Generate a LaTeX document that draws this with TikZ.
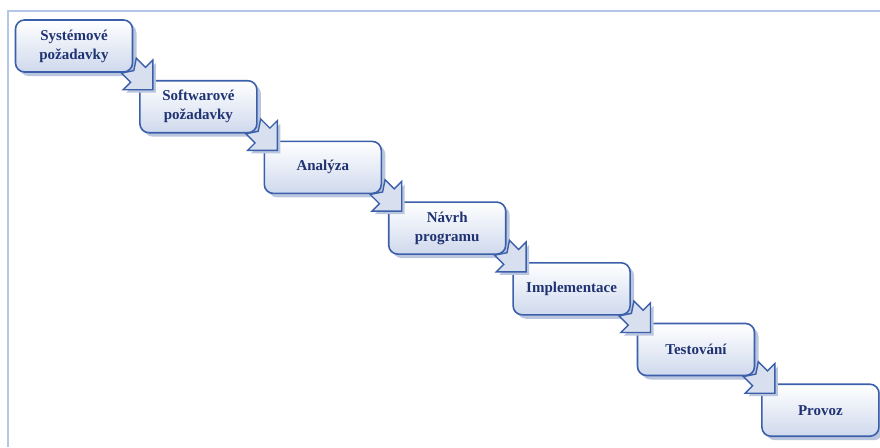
\documentclass[tikz,border=0pt]{standalone}
\usepackage{fontspec}
\setmainfont{Liberation Serif}
\usepackage{tikz}
\usetikzlibrary{shadows}

\definecolor{framelt}{HTML}{B4C6E7}
\definecolor{stepline}{HTML}{3B5FAA}
\definecolor{steptext}{HTML}{1F3272}
\definecolor{stepfill}{HTML}{CFD9ED}
\definecolor{stepshadow}{HTML}{BAC6DE}
\definecolor{arrowfill}{HTML}{D8E0EF}

\tikzset{
	stage/.style={rectangle,rounded corners=9pt,draw=stepline,line width=1.6pt,
		top color=white,bottom color=stepfill,minimum width=117pt,minimum height=52pt,
		inner sep=0pt,outer sep=0pt,align=center,text=steptext,
		font=\fontsize{15}{19}\selectfont\bfseries,
		drop shadow={shadow xshift=4pt,shadow yshift=-4pt,fill=stepshadow,opacity=1}},
	stagearrow/.style={draw=stepline,line width=1.4pt,fill=arrowfill,
		drop shadow={shadow xshift=3pt,shadow yshift=-3pt,fill=stepshadow,opacity=1}}
}

% block arrow, tip at #1, pointing down-right
\newcommand{\steparrow}[1]{%
	\begin{scope}[shift={(#1)},rotate=-45]
		\draw[stagearrow] (0,0) -- (-21,-21) -- (-21,-10.5) -- (-34,-10.5) -- (-27,0)
			-- (-34,10.5) -- (-21,10.5) -- (-21,21) -- cycle;
	\end{scope}}

\begin{document}
\begin{tikzpicture}[x=1pt,y=-1pt]
		\useasboundingbox (0,0) rectangle (880,447);
		\draw[framelt,line width=2pt] (8,447) -- (8,11) -- (880,11);

		\path (74,46) node(sys_req) [stage] {Systémové\\požadavky};
		\path (198.4,106.7) node(sw_req) [stage] {Softwarové\\požadavky};
		\path (322.8,167.4) node(analysis) [stage] {Analýza};
		\path (447.2,228.1) node(design) [stage] {Návrh\\programu};
		\path (571.6,288.8) node(impl) [stage] {Implementace};
		\path (696,349.5) node(testing) [stage] {Testování};
		\path (820.4,410.2) node(deploy) [stage] {Provoz};

		\path (sw_req.north west) +(13,9) coordinate (tip1);
		\path (analysis.north west) +(13,9) coordinate (tip2);
		\path (design.north west) +(13,9) coordinate (tip3);
		\path (impl.north west) +(13,9) coordinate (tip4);
		\path (testing.north west) +(13,9) coordinate (tip5);
		\path (deploy.north west) +(13,9) coordinate (tip6);

		\steparrow{tip1}
		\steparrow{tip2}
		\steparrow{tip3}
		\steparrow{tip4}
		\steparrow{tip5}
		\steparrow{tip6}
	\end{tikzpicture}
\end{document}
